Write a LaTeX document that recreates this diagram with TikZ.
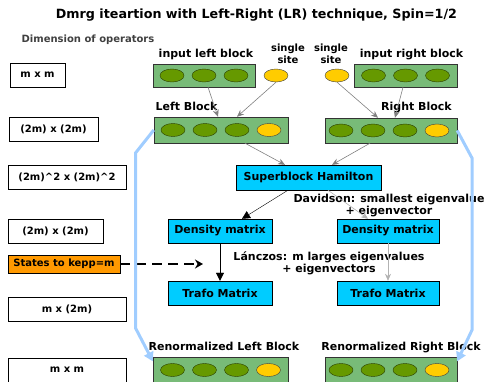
\documentclass[tikz,border=0pt]{standalone}
\usepackage{fontspec}
\setmainfont{DejaVu Sans}
\usetikzlibrary{arrows.meta}
\usetikzlibrary{shapes.geometric}

\definecolor{blockgreen}{RGB}{120,187,120}
\definecolor{sitegreen}{RGB}{102,153,0}
\definecolor{siteyellow}{RGB}{255,204,0}
\definecolor{hamcyan}{RGB}{0,204,255}
\definecolor{keeporange}{RGB}{255,153,0}
\definecolor{feedblue}{RGB}{160,205,255}

\begin{document}
\begin{tikzpicture}[x=1pt, y=-1pt, node distance=32pt,
  opbox/.style={draw, fill=white, minimum height=24pt, inner sep=0pt, font=\fontsize{10}{12}\selectfont\bfseries},
  block/.style={draw=black!80, fill=blockgreen, minimum height=25pt, inner sep=0pt},
  site/.style={draw=black!60!sitegreen, fill=sitegreen, shape=ellipse, minimum width=24pt, minimum height=13pt, inner sep=0pt},
  single/.style={site, draw=black!75, fill=siteyellow},
  opnode/.style={draw, fill=hamcyan, minimum height=24pt, inner sep=0pt, font=\fontsize{11}{12}\selectfont\bfseries},
  lbl/.style={font=\fontsize{11}{12}\selectfont\bfseries, inner sep=0pt, anchor=base},
  inarrow/.style={draw=gray, semithick, -{Stealth[length=7pt,width=6pt]}},
  mainarrow/.style={draw=black, thin, -{Triangle[length=8pt,width=8pt]}},
  sidearrow/.style={draw=black!30, semithick, -{Stealth[length=7pt,width=6pt]}},
  feed/.style={draw=feedblue, line width=3pt, -{Triangle[length=9pt,width=10pt]}},
  keeparrow/.style={draw, line width=1.6pt, dash pattern=on 10pt off 6pt, -{Stealth[length=8pt,width=9pt]}}]

  \useasboundingbox (0,0) rectangle (485,382);

  % Title
  \node[lbl, font=\fontsize{12.7}{15}\selectfont\bfseries] (title) at (256.5,19) {Dmrg iteartion with Left-Right (LR) technique, Spin=1/2};
  \node[lbl, font=\fontsize{10}{12}\selectfont\bfseries, text=black!75] (dimtitle) at (88,43) {Dimension of operators};

  % Operator dimensions
  \node[opbox, minimum width=55pt] (d1) at (37.5,75) {m x m};
  \node[opbox, minimum width=89pt] (d2) at (53.5,129.5) {(2m) x (2m)};
  \node[opbox, minimum width=118pt] (d3) at (67,177.5) {(2m)\textasciicircum2 x (2m)\textasciicircum2};
  \node[opbox, minimum width=95pt] (d4) at (55.5,231) {(2m) x (2m)};
  \node[opbox, minimum width=112pt, minimum height=18pt, fill=keeporange] (st) at (64,264) {States to kepp=m};
  \node[opbox, minimum width=118pt] (d6) at (67,309) {m x (2m)};
  \node[opbox, minimum width=118pt] (d7) at (67,370) {m x m};

  % Input blocks
  \node[block, minimum width=102pt, minimum height=23pt] (ilb) at (204,75.5) {};
  \node[site] (ilb1) at ([xshift=-32pt]ilb.center) {};
  \node[site, right of=ilb1] (ilb2) {};
  \node[site, right of=ilb2] (ilb3) {};
  \node[block, minimum width=103pt, minimum height=23pt] (irb) at (405.5,75.5) {};
  \node[site] (irb1) at ([xshift=-32pt]irb.center) {};
  \node[site, right of=irb1] (irb2) {};
  \node[site, right of=irb2] (irb3) {};
  % Single sites
  \node[single] (sl) at (276,75.5) {};
  \node[single] (sr) at (337,75.5) {};

  % Enlarged blocks
  \node[block, minimum width=134pt, minimum height=26pt] (lb) at (221,130) {};
  \node[site] (lb1) at ([xshift=-48pt]lb.center) {};
  \node[site, right of=lb1] (lb2) {};
  \node[site, right of=lb2] (lb3) {};
  \node[single, right of=lb3] (lb4) {};
  \node[block, minimum width=132pt] (rb) at (391,130.5) {};
  \node[site] (rb1) at ([xshift=-50pt]rb.center) {};
  \node[site, right of=rb1] (rb2) {};
  \node[site, right of=rb2] (rb3) {};
  \node[single, right of=rb3] (rb4) {};

  % Superblock and matrices
  \node[opnode, minimum width=145pt, minimum height=25pt] (sb) at (308.5,177.5) {Superblock Hamilton};
  \node[opnode, minimum width=104pt] (dml) at (220,231) {Density matrix};
  \node[opnode, minimum width=102pt] (dmr) at (388,231) {Density matrix};
  \node[opnode, minimum width=104pt] (tml) at (220,293) {Trafo Matrix};
  \node[opnode, minimum width=102pt] (tmr) at (388,293) {Trafo Matrix};

  % Renormalized blocks
  \node[block, minimum width=135pt] (rlb) at (220.5,370) {};
  \node[site] (rlb1) at ([xshift=-48pt]rlb.center) {};
  \node[site, right of=rlb1] (rlb2) {};
  \node[site, right of=rlb2] (rlb3) {};
  \node[single, right of=rlb3] (rlb4) {};
  \node[block, minimum width=132pt] (rrb) at (391,370) {};
  \node[site] (rrb1) at ([xshift=-50pt]rrb.center) {};
  \node[site, right of=rrb1] (rrb2) {};
  \node[site, right of=rrb2] (rrb3) {};
  \node[single, right of=rrb3] (rrb4) {};

  % Block labels
  \node[lbl] (ilbt) at (206,58) {input left block};
  \node[lbl] (irbt) at (411.5,58) {input right block};
  \node[lbl, font=\fontsize{10}{12}\selectfont\bfseries, align=center, anchor=north] (slt) at (288,43.4) {single\\site};
  \node[lbl, font=\fontsize{10}{12}\selectfont\bfseries, align=center, anchor=north] (srt) at (331,43.4) {single\\site};
  \node[lbl] (lbt) at (186.5,111) {Left Block};
  \node[lbl] (rbt) at (416.5,111) {Right Block};
  \node[lbl] (rlbt) at (224,351) {Renormalized Left Block};
  \node[lbl] (rrbt) at (401,351) {Renormalized Right Block};
  \node[lbl, align=center, anchor=north] (dav) at (389,193.6) {Davidson: smallest eigenvalue\\+ eigenvector};
  \node[lbl, align=center, anchor=north] (lan) at (329,251.6) {Lánczos: m larges eigenvalues\\+ eigenvectors};

  % Building the enlarged blocks
  \path[inarrow] ([xshift=4pt]ilb.south) to ([xshift=-3pt]lb.north);
  \path[inarrow] (sl.south) to ([xshift=16pt]lb.north);
  \path[inarrow] (sr.south) to ([xshift=-13pt]rb.north);
  \path[inarrow] ([xshift=-2.5pt]irb.south) to ([xshift=4pt]rb.north);
  \path[inarrow] ([xshift=24pt]lb.south) to ([xshift=-23.5pt]sb.north);
  \path[inarrow] ([xshift=-21pt]rb.south) to ([xshift=23.5pt]sb.north);

  % Diagonalization
  \path[mainarrow] ([xshift=-20.5pt]sb.south) to ([xshift=22pt]dml.north);
  \path[sidearrow] ([xshift=19.5pt]sb.south) to ([xshift=-20pt]dmr.north);
  \path[mainarrow] (dml.south) to (tml.north);
  \path[sidearrow] (dmr.south) to (tmr.north);

  % States kept
  \coordinate (keep) at (203,264);
  \path[keeparrow] (st.east) to (keep);

  % Renormalization paths
  \coordinate (lbA) at (135.5,153);
  \coordinate (lbB) at (135.5,328);
  \coordinate (rbA) at (472,158);
  \coordinate (rbB) at (472,330);
  \draw[feed] (lb.west) -- (lbA) -- (lbB) -- ([yshift=-4pt]rlb.north west);
  \draw[feed] (rb.east) -- (rbA) -- (rbB) -- ([yshift=-4pt]rrb.north east);

\end{tikzpicture}
\end{document}
